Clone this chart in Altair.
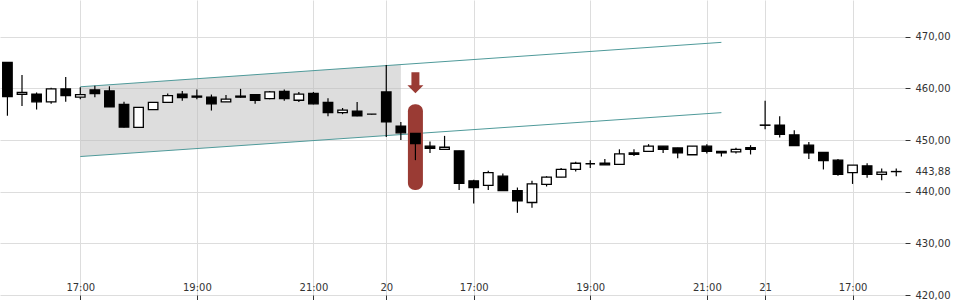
import altair as alt
import pandas as pd

# ---- candle data (15-minute candles, index = slot position on the time axis) ----
idx = list(range(62))
opens = [465.0, 458.85, 458.9, 457.4, 459.9, 458.3, 459.7, 459.5, 456.9, 452.45,
         455.9, 457.3, 458.9, 458.5, 458.3, 457.4, 458.5, 458.8, 458.0, 459.4,
         457.7, 459.0, 457.3, 455.3, 455.6, 455.0, 459.3, 452.7, 451.3, 448.8,
         448.2, 447.9, 442.1, 441.2, 443.0, 440.2, 437.9, 441.4, 442.8, 444.3,
         445.4, 445.5, 445.3, 447.5, 447.8, 448.8, 448.45, 447.15, 448.8, 447.8,
         447.7, 448.5, 452.9, 452.9, 451.0, 449.0, 447.6, 446.1, 443.7, 445.0,
         443.35, 443.9]
closes = [458.4, 459.2, 457.4, 459.9, 458.6, 458.8, 459.0, 456.4, 452.5, 456.3,
          457.3, 458.6, 458.2, 458.3, 457.0, 457.9, 458.3, 457.7, 459.3, 458.0,
          458.9, 457.0, 455.3, 455.8, 454.7, 455.0, 453.5, 451.4, 449.3, 448.4,
          448.6, 441.6, 440.8, 443.7, 440.2, 438.2, 441.5, 442.8, 444.3, 445.5,
          445.4, 445.2, 447.3, 447.2, 448.8, 448.2, 447.5, 448.8, 447.8, 447.5,
          448.2, 448.2, 452.85, 451.1, 448.9, 447.5, 446.0, 443.35, 445.15, 443.35,
          443.8, 443.88]
highs = [465.0, 462.6, 459.2, 460.1, 462.2, 460.2, 460.5, 460.4, 457.4, 456.3,
         457.3, 459.0, 459.5, 459.8, 458.8, 458.7, 459.9, 458.8, 459.5, 459.8,
         459.3, 459.3, 458.1, 456.2, 457.35, 455.05, 464.5, 453.5, 451.3, 449.7,
         450.8, 447.9, 442.3, 444.05, 443.5, 440.8, 442.1, 443.0, 444.6, 445.8,
         446.1, 446.3, 448.2, 448.2, 449.2, 448.8, 448.5, 448.8, 449.2, 447.8,
         448.5, 449.0, 457.6, 454.6, 451.9, 449.6, 447.6, 446.3, 445.15, 445.5,
         444.5, 444.5]
lows = [454.7, 456.6, 455.9, 457.0, 457.4, 457.9, 458.3, 456.4, 452.4, 452.4,
        455.9, 457.3, 457.6, 457.9, 455.7, 457.4, 458.2, 457.0, 457.9, 457.6,
        457.35, 456.9, 454.6, 455.0, 454.6, 454.95, 450.6, 450.0, 446.1, 447.5,
        448.2, 440.3, 437.7, 440.3, 440.2, 435.9, 436.9, 441.0, 442.8, 443.9,
        444.6, 445.2, 445.3, 446.9, 447.8, 447.5, 446.45, 447.15, 447.4, 446.8,
        447.4, 447.2, 452.1, 450.5, 448.9, 446.3, 444.3, 443.1, 441.5, 442.7,
        442.2, 443.0]

# ---- axis labels ----
x_tick_pos = [5, 13, 21, 26, 32, 40, 48, 52, 58]
x_tick_lab = ["17:00", "19:00", "21:00", "20", "17:00", "19:00", "21:00", "21", "17:00"]
y_ticks = [420, 430, 440, 450, 460, 470]
last_price = 443.88

# ---- trend channel / signal annotations ----
chan_idx = [5, 49]
chan_upper = [460.3, 468.9]
chan_lower = [446.8, 455.3]
shade_idx = [5, 27]
shade_upper = [460.3, 464.6]
shade_lower = [446.8, 451.05]
signal_idx = [28]
signal_top = [456.9]
signal_bottom = [440.3]
arrow_level = [461.1]

candles = pd.DataFrame({"idx": idx, "open": opens, "close": closes,
                        "high": highs, "low": lows})
candles["up"] = candles["close"] > candles["open"]

chan = pd.DataFrame({"idx": chan_idx * 2,
                     "v": chan_upper + chan_lower,
                     "line": ["upper"] * 2 + ["lower"] * 2})
shade = pd.DataFrame({"idx": shade_idx, "top": shade_upper, "bottom": shade_lower})
signal = pd.DataFrame({"idx": signal_idx, "top": signal_top, "bottom": signal_bottom,
                       "arrow": arrow_level})

RED = "#9a3b34"
GRID = "#dddddd"
FONT = "DejaVu Sans"

xscale = alt.Scale(domain=[-0.51, 61.6], nice=False, zero=False, padding=0)
yscale = alt.Scale(domain=[420, 477.1], nice=False, zero=False, padding=0)

lab_arr = "[" + ",".join("'%s'" % s for s in x_tick_lab) + "]"
pos_arr = "[" + ",".join(str(p) for p in x_tick_pos) + "]"

x_axis = alt.Axis(values=x_tick_pos,
                  labelExpr=f"{lab_arr}[indexof({pos_arr}, datum.value)]",
                  grid=True, gridColor=GRID, domain=False,
                  tickColor="#333333", tickSize=5, labelPadding=-18,
                  labelFont=FONT, labelFontSize=10, labelColor="#333333",
                  labelFlush=False, labelOverlap=False, title=None)

y_axis = alt.Axis(orient="right", values=y_ticks + [last_price],
                  labelExpr="replace(format(datum.value, '.2f'), '.', ',')",
                  grid=True,
                  gridColor={"condition": {"test": f"datum.value == {last_price}", "value": "transparent"},
                             "value": GRID},
                  tickColor={"condition": {"test": f"datum.value == {last_price}", "value": "transparent"},
                             "value": "#333333"},
                  domain=False, tickSize=5, labelPadding=5,
                  labelFont=FONT, labelFontSize=10, labelColor="#333333",
                  labelOverlap=False, labelFlush=False, title=None)

X = alt.X("idx:Q", scale=xscale, axis=x_axis)

area = alt.Chart(shade).mark_area(color="#bbbbbb", opacity=0.5).encode(
    x=X,
    y=alt.Y("top:Q", scale=yscale, axis=y_axis),
    y2="bottom:Q",
)

lines = alt.Chart(chan).mark_line(color="#4f9a9a", strokeWidth=1).encode(
    x="idx:Q", y="v:Q", detail="line:N"
)

sig_bar = alt.Chart(signal).mark_bar(color=RED, size=15, cornerRadius=7).encode(
    x="idx:Q", y="top:Q", y2="bottom:Q"
)

arrow_path = "M-0.38,-1 L0.38,-1 L0.38,0.24 L0.76,0.24 L0,1 L-0.76,0.24 L-0.38,0.24 Z"
arrow = alt.Chart(signal).mark_point(shape=arrow_path, filled=True, color=RED,
                                     size=441, opacity=1, strokeWidth=0).encode(
    x="idx:Q", y="arrow:Q"
)

wicks = alt.Chart(candles).mark_rule(color="black", strokeWidth=1.2).encode(
    x="idx:Q", y="low:Q", y2="high:Q"
)

bodies = alt.Chart(candles).mark_bar(size=9.5, stroke="black", strokeWidth=1.3).encode(
    x="idx:Q", y="open:Q", y2="close:Q",
    fill=alt.condition("datum.up", alt.value("white"), alt.value("black")),
)

chart = alt.layer(area, lines, sig_bar, arrow, wicks, bodies).properties(
    width=905, height=295,
    autosize=alt.AutoSizeParams(type="none"),
    padding={"left": 0, "top": 0, "right": 55, "bottom": 5},
    background="white",
).configure_view(stroke=None)

chart.save("out.html", embed_options={"renderer": "svg", "actions": False})
